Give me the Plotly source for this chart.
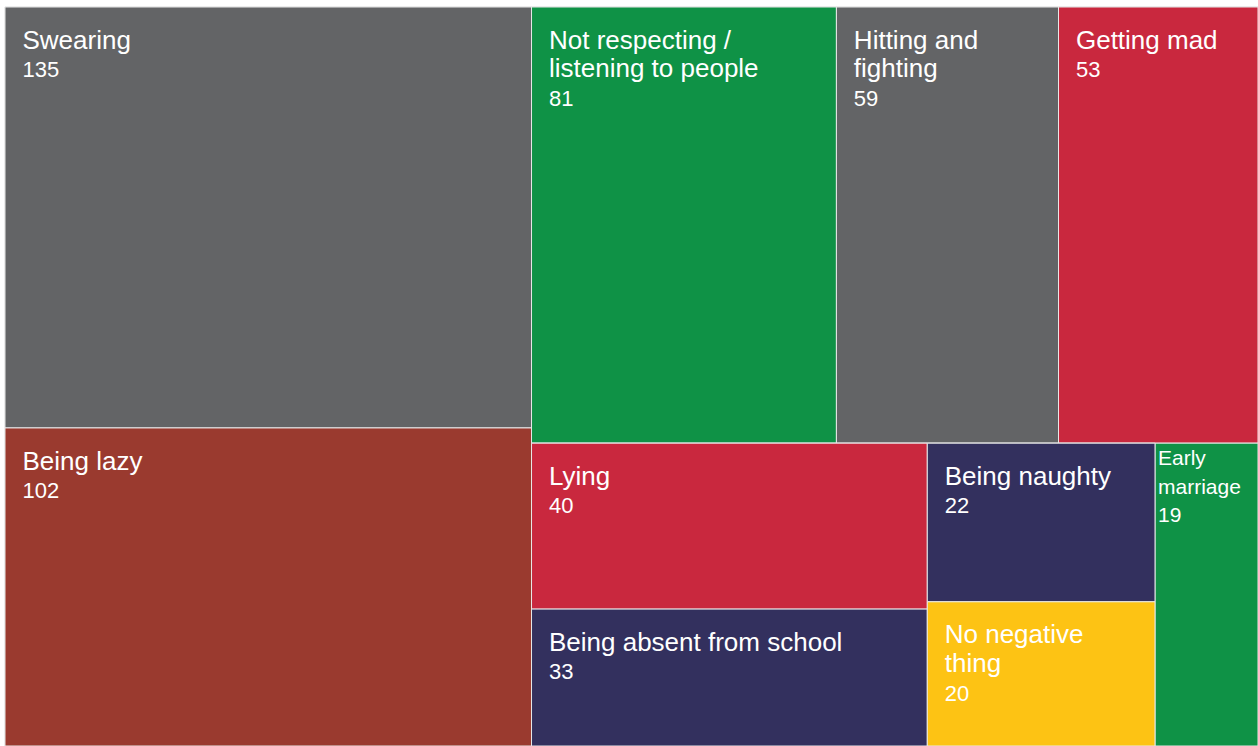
import plotly.graph_objects as go

# Leaf categories, in layout order
labels = ["Swearing", "Being lazy", "Not respecting /<br>listening to people",
          "Hitting and<br>fighting", "Getting mad", "Lying",
          "Being absent from school", "Being naughty", "No negative<br>thing",
          "Early<br>marriage"]
values = [135, 102, 81, 59, 53, 40, 33, 22, 20, 19]
colors = ["#636466", "#9a3a2f", "#0f9246", "#636466", "#c9283e", "#c9283e",
          "#33305e", "#33305e", "#fdc314", "#0f9246"]
label_px = [26, 26, 26, 26, 26, 26, 26, 26, 26, 21]
value_px = [22, 22, 22, 22, 22, 22, 22, 22, 22, 21]
indent_n = [2, 2, 2, 2, 2, 2, 2, 2, 2, 0]
top_gap = [True, True, True, True, True, True, True, True, True, False]

# Grouping nodes that arrange the tiles (slice-dice alternates direction by depth)
group_ids = ["all", "left", "right", "upper", "lower", "lower_a", "lower_b"]
group_parents = ["", "all", "all", "right", "right", "lower", "lower"]
leaf_parents = ["left", "left", "upper", "upper", "upper",
                "lower_a", "lower_a", "lower_b", "lower_b", "lower"]


def tile_text(name, value, lpx, vpx, n_indent, gap):
    indent = (f"<span style='font-size:{lpx}px'>" + "\u00a0" * n_indent + "</span>"
              if n_indent else "")
    lines = [f"{indent}<span style='font-size:{lpx}px'>{part}</span>"
             for part in name.split("<br>")]
    lines.append(f"{indent}<span style='font-size:{vpx}px'>{value}</span>")
    head = "<span style='font-size:11px'>\u00a0</span><br>" if gap else ""
    return head + "<br>".join(lines)


leaf_ids = [f"leaf{i}" for i in range(len(labels))]
ids = group_ids + leaf_ids
parents = group_parents + leaf_parents
node_values = [0] * len(group_ids) + values
node_colors = ["#ffffff"] * len(group_ids) + colors
node_text = [""] * len(group_ids) + [
    tile_text(n, v, lp, vp, k, g)
    for n, v, lp, vp, k, g in zip(labels, values, label_px, value_px, indent_n, top_gap)
]

fig = go.Figure(go.Treemap(
    ids=ids,
    labels=ids,
    parents=parents,
    values=node_values,
    branchvalues="remainder",
    text=node_text,
    textinfo="text",
    textposition="top left",
    textfont=dict(family="Liberation Sans", size=22, color="white"),
    marker=dict(colors=node_colors, line=dict(color="#e8e8e8", width=1),
                pad=dict(t=0, l=0, r=0, b=0)),
    tiling=dict(packing="slice-dice", pad=0),
    sort=False,
    hoverinfo="none",
    pathbar=dict(visible=False),
))
fig.update_layout(
    width=1258, height=746,
    margin=dict(l=5, r=0, t=7, b=0),
    paper_bgcolor="white",
)
fig.write_html("out.html")
